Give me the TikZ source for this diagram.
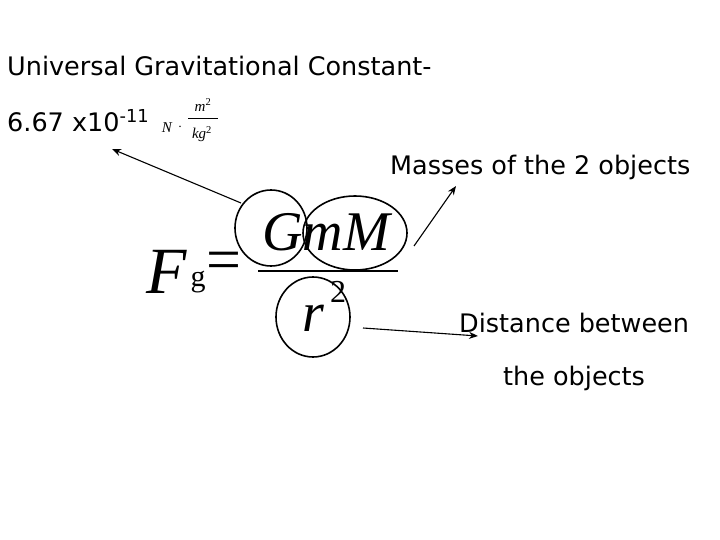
\documentclass[tikz,border=0pt]{standalone}
\usepackage{fontspec}
\setmainfont{DejaVu Sans}
\newfontfamily\serifit{Liberation Serif}
\usetikzlibrary{arrows.meta}
\begin{document}
\begin{tikzpicture}[x=1pt,y=-1pt,
  lbl/.style={font=\fontsize{25.5}{28}\selectfont, inner sep=0, anchor=west},
  unitt/.style={inner sep=0, font=\serifit\itshape\fontsize{15}{16}\selectfont},
  ring/.style={draw, line width=1.6pt},
  pointer/.style={draw, line width=1.1pt, -{Stealth[length=9pt,width=7pt]}}]
\useasboundingbox[fill=white] (0,0) rectangle (720,540);
\node[lbl] (title) at (7,66) {Universal Gravitational Constant-};
\node[lbl] (val) at (7,121) {6.67 x10\textsuperscript{-11}};
\node[unitt] (uN) at (167,128) {N};
\node[unitt] (udot) at (180,127) {$\cdot$};
\draw[line width=0.6pt] (188,118) coordinate (ul) -- (218,118) coordinate (ur);
\node[unitt] (um) at (203,105) {m\textsuperscript{\upshape 2}};
\node[unitt] (ukg) at (202,134) {kg\textsuperscript{\upshape 2}};
\node[inner sep=0] (F) at (167,272) {\serifit\fontsize{66}{70}\selectfont\itshape F};
\node[inner sep=0] (g) at (198,282) {\serifit\fontsize{30}{34}\selectfont g};
\node[inner sep=0] (eq) at (224,266) {\serifit\fontsize{62}{66}\selectfont =};
\node[inner sep=0] (num) at (326,232) {\serifit\fontsize{56}{60}\selectfont\itshape GmM};
\draw[line width=2.5pt] (258,271) coordinate (fl) -- (398,271) coordinate (fr);
\node[inner sep=0] (r) at (313,318) {\serifit\fontsize{56}{60}\selectfont\itshape r};
\node[inner sep=0] (two) at (338,292) {\serifit\fontsize{32}{36}\selectfont 2};
\draw[ring] (271,228) ellipse (36 and 38) node (cG) {};
\draw[ring] (355,233) ellipse (52 and 37) node (cM) {};
\draw[ring] (313,317) ellipse (37 and 40) node (cr) {};
\coordinate (a1s) at (241,203); \coordinate (a1e) at (112,149);
\coordinate (a2s) at (414,246); \coordinate (a2e) at (456,186);
\coordinate (a3s) at (363,328); \coordinate (a3e) at (478,336);
\draw[pointer] (a1s) -- (a1e);
\draw[pointer] (a2s) -- (a2e);
\draw[pointer] (a3s) -- (a3e);
\node[lbl] (mass) at (390,167) {Masses of the 2 objects};
\node[lbl] (dist) at (459,323) {Distance between};
\node[lbl] (obj) at (503,378) {the objects};
\end{tikzpicture}
\end{document}
